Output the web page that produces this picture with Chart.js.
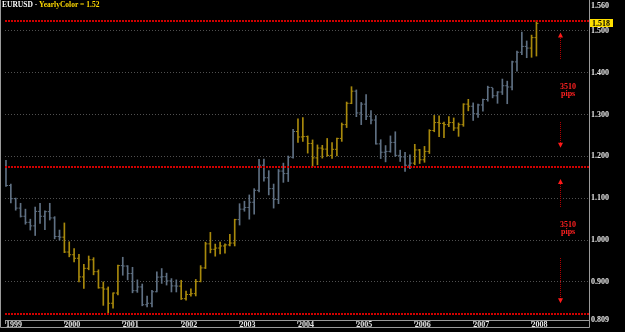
<!DOCTYPE html>
<html>
<head>
<meta charset="utf-8">
<script src="https://cdn.jsdelivr.net/npm/chart.js@4.4.1/dist/chart.umd.min.js"></script>
<style>
    html, body { margin: 0; padding: 0; background: #000; }
    #wrap { position: relative; width: 625px; height: 332px; }
</style>
</head>
<body>
<div id="wrap"><canvas id="chart"></canvas></div>
<script>
// EURUSD monthly bars, Jan 1999 - Feb 2008
const yearLabels = ['1999', '2000', '2001', '2002', '2003', '2004', '2005', '2006', '2007', '2008'];

const opens = [
    1.1790, 1.1305, 1.0990, 1.0765, 1.0570, 1.0425, 1.0340, 1.0686, 1.0570, 1.0680, 1.0530, 1.0085,
    1.0070, 0.9715, 0.9650, 0.9565, 0.9120, 0.9325, 0.9530, 0.9245, 0.8860, 0.8830, 0.8490, 0.8735,
    0.9390, 0.9380, 0.9200, 0.8790, 0.8880, 0.8455, 0.8490, 0.8765, 0.9115, 0.9125, 0.9025, 0.8905,
    0.8900, 0.8600, 0.8700, 0.8720, 0.9010, 0.9335, 0.9910, 0.9780, 0.9810, 0.9860, 0.9885, 0.9930,
    1.0490, 1.0740, 1.0780, 1.0905, 1.1190, 1.1790, 1.1490, 1.1230, 1.0970, 1.1650, 1.1590, 1.1980,
    1.2595, 1.2465, 1.2475, 1.2310, 1.1965, 1.2200, 1.2175, 1.2025, 1.2170, 1.2430, 1.2760, 1.3270,
    1.3560, 1.3040, 1.3250, 1.2960, 1.2870, 1.2300, 1.2100, 1.2120, 1.2335, 1.2025, 1.1990, 1.1790,
    1.1840, 1.2155, 1.1920, 1.2120, 1.2620, 1.2810, 1.2790, 1.2760, 1.2810, 1.2680, 1.2760, 1.3250,
    1.3200, 1.3020, 1.3230, 1.3360, 1.3650, 1.3450, 1.3540, 1.3690, 1.3660, 1.4260, 1.4490, 1.4630,
    1.4590, 1.4840
];
const highs = [
    1.1906, 1.1340, 1.1005, 1.0880, 1.0740, 1.0500, 1.0790, 1.0880, 1.0700, 1.0880, 1.0560, 1.0240,
    1.0410, 0.9960, 0.9800, 0.9660, 0.9420, 0.9620, 0.9580, 0.9290, 0.9000, 0.8880, 0.8740, 0.9400,
    0.9590, 0.9390, 0.9350, 0.9050, 0.8950, 0.8660, 0.8800, 0.9240, 0.9320, 0.9210, 0.9080, 0.9050,
    0.9040, 0.8780, 0.8835, 0.9060, 0.9390, 0.9950, 1.0185, 0.9905, 0.9950, 0.9910, 1.0140, 1.0500,
    1.0870, 1.0930, 1.1080, 1.1230, 1.1930, 1.1935, 1.1660, 1.1340, 1.1690, 1.1840, 1.2010, 1.2650,
    1.2900, 1.2930, 1.2490, 1.2395, 1.2275, 1.2265, 1.2430, 1.2330, 1.2440, 1.2800, 1.3300, 1.3667,
    1.3590, 1.3290, 1.3480, 1.3095, 1.2975, 1.2400, 1.2260, 1.2490, 1.2590, 1.2150, 1.2100, 1.2040,
    1.2290, 1.2170, 1.2240, 1.2640, 1.2980, 1.2970, 1.2820, 1.2950, 1.2920, 1.2800, 1.3260, 1.3365,
    1.3280, 1.3250, 1.3370, 1.3680, 1.3630, 1.3550, 1.3850, 1.3800, 1.4280, 1.4520, 1.4970, 1.4760,
    1.4900, 1.5250
];
const lows = [
    1.1285, 1.0890, 1.0715, 1.0550, 1.0380, 1.0240, 1.0110, 1.0400, 1.0250, 1.0480, 1.0030, 1.0000,
    0.9700, 0.9600, 0.9480, 0.9000, 0.8845, 0.9290, 0.9170, 0.8850, 0.8440, 0.8228, 0.8375, 0.8690,
    0.9160, 0.9050, 0.8740, 0.8750, 0.8430, 0.8405, 0.8400, 0.8760, 0.8965, 0.8925, 0.8760, 0.8760,
    0.8580, 0.8565, 0.8660, 0.8665, 0.9000, 0.9320, 0.9695, 0.9615, 0.9670, 0.9690, 0.9860, 0.9860,
    1.0360, 1.0690, 1.0500, 1.0620, 1.1150, 1.1410, 1.1080, 1.0765, 1.0870, 1.1380, 1.1400, 1.1960,
    1.2335, 1.2360, 1.2080, 1.1760, 1.1800, 1.1960, 1.2005, 1.1950, 1.2010, 1.2360, 1.2690, 1.3260,
    1.2950, 1.2760, 1.2880, 1.2775, 1.2295, 1.1950, 1.1870, 1.2100, 1.2000, 1.1880, 1.1640, 1.1710,
    1.1800, 1.1830, 1.1860, 1.2070, 1.2590, 1.2470, 1.2450, 1.2710, 1.2620, 1.2480, 1.2720, 1.3090,
    1.2860, 1.2930, 1.3080, 1.3320, 1.3400, 1.3270, 1.3480, 1.3260, 1.3590, 1.4040, 1.4430, 1.4360,
    1.4370, 1.4400
];
const closes = [
    1.1305, 1.0990, 1.0765, 1.0570, 1.0425, 1.0340, 1.0686, 1.0570, 1.0680, 1.0530, 1.0085, 1.0070,
    0.9715, 0.9650, 0.9565, 0.9120, 0.9325, 0.9530, 0.9245, 0.8860, 0.8830, 0.8490, 0.8735, 0.9390,
    0.9380, 0.9200, 0.8790, 0.8880, 0.8455, 0.8490, 0.8765, 0.9115, 0.9125, 0.9025, 0.8905, 0.8900,
    0.8600, 0.8700, 0.8720, 0.9010, 0.9335, 0.9910, 0.9780, 0.9810, 0.9860, 0.9885, 0.9930, 1.0490,
    1.0740, 1.0780, 1.0905, 1.1190, 1.1790, 1.1490, 1.1230, 1.0970, 1.1650, 1.1590, 1.1980, 1.2595,
    1.2465, 1.2475, 1.2310, 1.1965, 1.2200, 1.2175, 1.2025, 1.2170, 1.2430, 1.2760, 1.3270, 1.3560,
    1.3040, 1.3250, 1.2960, 1.2870, 1.2300, 1.2100, 1.2120, 1.2335, 1.2025, 1.1990, 1.1790, 1.1840,
    1.2155, 1.1920, 1.2120, 1.2620, 1.2810, 1.2790, 1.2760, 1.2810, 1.2680, 1.2760, 1.3250, 1.3200,
    1.3020, 1.3230, 1.3360, 1.3650, 1.3450, 1.3540, 1.3690, 1.3660, 1.4260, 1.4490, 1.4630, 1.4590,
    1.4840, 1.5180
];

// red levels: top, middle, all-time low (3510 pips apart)
const levels = [1.5248, 1.1738, 0.8228];
const yTickValues = [0.809, 0.9, 1.0, 1.1, 1.2, 1.3, 1.4, 1.5, 1.56];
const yearTickValues = yearLabels.map((y, i) => i * 12);
const pipsText = ['3510', 'pips'];

// arrows (price from -> price of tip), text rows
const arrows = [[1.4326, 1.4961], [1.2820, 1.2208], [1.0780, 1.1462], [0.9580, 0.8490]];
const pipsRows = [[1.3667, 1.3490], [1.0360, 1.0195]];

const X_MIN = -0.2, X_MAX = 119.8, Y_MIN = 0.809, Y_MAX = 1.562;
const GREY = '#5f7083';
const GOLD = '#a8890c';
const AXIS = '#9a9a9a';
const LABEL_FONT = { family: 'Liberation Serif', size: 8, weight: 'bold' };

function barColor(i) {
    return Math.floor(i / 12) % 2 === 0 ? GREY : GOLD;
}
const colors = highs.map((h, i) => barColor(i));

// red dotted levels, on whole pixels so the dots stay crisp
const levelLines = {
    id: 'levelLines',
    afterDatasetsDraw(chart) {
        const { ctx, chartArea, scales } = chart;
        ctx.save();
        ctx.strokeStyle = '#d00000';
        ctx.lineWidth = 2;
        ctx.setLineDash([2, 1]);
        levels.forEach(lvl => {
            const py = Math.round(scales.y.getPixelForValue(lvl));
            ctx.beginPath();
            ctx.moveTo(chartArea.left, py);
            ctx.lineTo(chartArea.right, py);
            ctx.stroke();
        });
        ctx.restore();
    }
};

// frame, title, price box and pip arrows
const extras = {
    id: 'extras',
    afterDraw(chart) {
        const { ctx, chartArea, scales } = chart;
        const x = scales.x, y = scales.y;
        ctx.save();

        // frame
        ctx.strokeStyle = AXIS;
        ctx.lineWidth = 1;
        ctx.setLineDash([]);
        ctx.beginPath();
        ctx.moveTo(0.5, 0); ctx.lineTo(0.5, 327.5);
        ctx.lineTo(Math.round(chartArea.right) + 0.5, 327.5);
        ctx.lineTo(Math.round(chartArea.right) + 0.5, 0);
        ctx.stroke();

        // title
        ctx.font = 'bold 7.5px "Liberation Serif"';
        ctx.textBaseline = 'top';
        ctx.textAlign = 'left';
        ctx.fillStyle = '#ffffff';
        const head = 'EURUSD - ';
        ctx.fillText(head, 2, 1);
        ctx.fillStyle = '#ffd800';
        ctx.fillText('YearlyColor = 1.52', 2 + ctx.measureText(head).width, 1);

        // last price box
        const last = closes[closes.length - 1];
        const py = y.getPixelForValue(last);
        const bx = Math.round(chartArea.right) + 1;
        ctx.fillStyle = '#ffe000';
        ctx.fillRect(bx, Math.round(py) - 4, 23, 8);
        ctx.fillStyle = '#000';
        ctx.font = 'bold 8px "Liberation Serif"';
        ctx.textBaseline = 'middle';
        ctx.fillText(last.toFixed(3), bx + 2, Math.round(py) + 0.5);

        // pip arrows
        const ax = Math.round(x.getPixelForValue(113.9)) + 0.5;
        arrows.forEach(([from, tip]) => {
            const y0 = y.getPixelForValue(from);
            const y1 = y.getPixelForValue(tip);
            const dir = y1 < y0 ? 1 : -1;
            ctx.strokeStyle = '#b00000';
            ctx.setLineDash([1, 1]);
            ctx.beginPath();
            ctx.moveTo(ax, Math.round(y0));
            ctx.lineTo(ax, Math.round(y1 + dir * 4));
            ctx.stroke();
            ctx.setLineDash([]);
            ctx.fillStyle = '#ff1a1a';
            ctx.beginPath();
            ctx.moveTo(ax, y1);
            ctx.lineTo(ax - 2.5, y1 + dir * 5);
            ctx.lineTo(ax + 2.5, y1 + dir * 5);
            ctx.closePath();
            ctx.fill();
        });

        ctx.fillStyle = '#ff2020';
        ctx.font = 'bold 8px "Liberation Serif"';
        ctx.textAlign = 'center';
        ctx.textBaseline = 'middle';
        const tx = x.getPixelForValue(115.5);
        pipsRows.forEach(rows => {
            rows.forEach((v, k) => ctx.fillText(pipsText[k], tx, y.getPixelForValue(v)));
        });
        ctx.restore();
    }
};

const ctx = document.getElementById('chart');
const chart = new Chart(ctx, {
    type: 'bar',
    data: {
        datasets: [
            {
                type: 'scatter',
                data: opens.map((o, i) => ({ x: i - 0.2, y: o })),
                pointStyle: 'line',
                pointRadius: 1,
                pointBorderWidth: 1,
                pointBorderColor: colors,
                pointBackgroundColor: colors,
                order: 1
            },
            {
                type: 'scatter',
                data: closes.map((c, i) => ({ x: i + 0.2, y: c })),
                pointStyle: 'line',
                pointRadius: 1,
                pointBorderWidth: 1,
                pointBorderColor: colors,
                pointBackgroundColor: colors,
                order: 1
            },
            {
                type: 'bar',
                data: highs.map((h, i) => ({ x: i, y: [lows[i], h] })),
                backgroundColor: colors,
                borderWidth: 0,
                barThickness: 1,
                grouped: false,
                order: 2
            }
        ]
    },
    options: {
        responsive: true,
        maintainAspectRatio: false,
        animation: false,
        events: [],
        layout: { padding: { left: 1, right: 0, top: 0, bottom: 0 } },
        plugins: {
            legend: { display: false },
            tooltip: { enabled: false }
        },
        scales: {
            x: {
                type: 'linear',
                min: X_MIN,
                max: X_MAX,
                offset: false,
                afterBuildTicks: s => { s.ticks = yearTickValues.map(v => ({ value: v })); },
                afterFit: s => { s.height = 12; s.paddingLeft = 0; s.paddingRight = 0; },
                ticks: {
                    callback: (v, i) => yearLabels[i],
                    align: 'start',
                    padding: -4,
                    autoSkip: false,
                    maxRotation: 0,
                    color: '#e6e6e6',
                    font: LABEL_FONT
                },
                grid: { drawOnChartArea: false, drawTicks: true, tickLength: 4, color: AXIS, offset: false },
                border: { color: AXIS }
            },
            y: {
                type: 'linear',
                position: 'right',
                min: Y_MIN,
                max: Y_MAX,
                afterBuildTicks: s => { s.ticks = yTickValues.map(v => ({ value: v })); },
                afterFit: s => { s.width = 36; s.paddingTop = 0; s.paddingBottom = 0; },
                ticks: {
                    callback: v => v.toFixed(3),
                    autoSkip: false,
                    padding: 2,
                    color: '#e6e6e6',
                    font: LABEL_FONT
                },
                grid: {
                    drawTicks: false,
                    color: c => (c.tick && (c.tick.value === Y_MIN || c.tick.value > 1.55)) ? 'rgba(0,0,0,0)' : '#505050'
                },
                border: { color: AXIS, dash: [1, 2] }
            }
        }
    },
    plugins: [levelLines, extras]
});
</script>
</body>
</html>
